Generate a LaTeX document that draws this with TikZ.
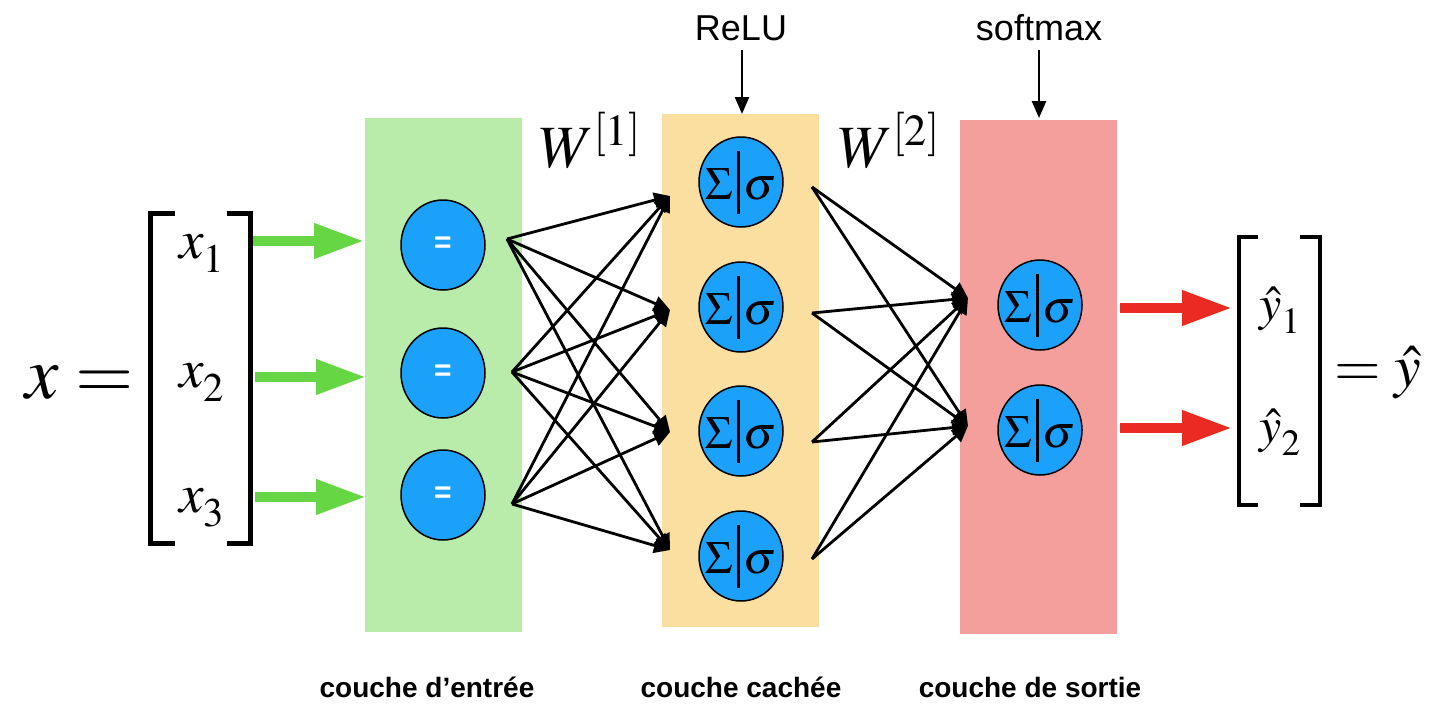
\documentclass[tikz,border=0pt]{standalone}
\usepackage{mathptmx}
\usepackage[no-math]{fontspec}
\setmainfont{Liberation Sans}
\usetikzlibrary{arrows.meta,shapes.geometric}
\definecolor{gbox}{HTML}{B9EBAA}
\definecolor{obox}{HTML}{FADFA0}
\definecolor{rbox}{HTML}{F59F9C}
\definecolor{neur}{HTML}{1BA1F9}
\definecolor{garr}{HTML}{66D645}
\definecolor{rarr}{HTML}{EA2A23}
\newcommand{\sigcell}{\fontsize{46}{46}\selectfont$\Sigma$\kern4pt\raisebox{-14.5pt}{\rule{3pt}{63pt}}\kern4pt$\sigma$}
\newcommand{\lowsub}[1]{_{\lower6pt\hbox{$\scriptstyle #1$}}}
\begin{document}
\begin{tikzpicture}[x=1pt,y=-1pt,
  layerbox/.style={draw=none,minimum width=157pt,inner sep=0},
  neuron/.style={ellipse,draw=black,line width=1.5pt,fill=neur,minimum width=84pt,minimum height=90pt,inner sep=0},
  eqsign/.style={text=white,font=\fontsize{30}{30}\selectfont\bfseries},
  cellsym/.style={inner sep=0},
  conn/.style={line width=2.8pt,-{Triangle[length=16pt,width=15pt]}},
  garrow/.style={draw=garr,line width=10pt,-{Triangle[length=50pt,width=33pt]}},
  rarrow/.style={draw=rarr,line width=10pt,-{Triangle[length=50pt,width=33pt]}},
  farrow/.style={line width=2.5pt,-{Triangle[length=17pt,width=14pt]}},
  bracket/.style={line width=5pt,miter limit=10},
  ybracket/.style={line width=4pt,miter limit=10},
  funlbl/.style={anchor=base,font=\fontsize{36}{40}\selectfont},
  layerlbl/.style={anchor=base,font=\fontsize{28}{30}\selectfont\bfseries},
  bigmath/.style={anchor=base,font=\fontsize{75}{80}\selectfont},
  vecmath/.style={anchor=base,font=\fontsize{55}{60}\selectfont},
  yvecmath/.style={anchor=base,font=\fontsize{50}{54}\selectfont},
  wmath/.style={anchor=base,font=\fontsize{60}{64}\selectfont}
]
\useasboundingbox (0,0) rectangle (1448,720);

% layer boxes
\node[layerbox,fill=gbox,minimum height=514pt] (inbox) at (443.5,375) {};
\node[layerbox,fill=obox,minimum height=513pt] (hidbox) at (740.5,370.5) {};
\node[layerbox,fill=rbox,minimum height=514pt] (outbox) at (1038.5,377) {};

% neurons
\node[neuron] (i1) at (443,245) {}; \node[eqsign] at (i1) {=};
\node[neuron] (i2) at (443,373) {}; \node[eqsign] at (i2) {=};
\node[neuron] (i3) at (443,495) {}; \node[eqsign] at (i3) {=};
\node[neuron] (h1) at (741,182) {}; \node[cellsym] at (h1) {\sigcell};
\node[neuron] (h2) at (741,307) {}; \node[cellsym] at (h2) {\sigcell};
\node[neuron] (h3) at (741,431) {}; \node[cellsym] at (h3) {\sigcell};
\node[neuron] (h4) at (741,556) {}; \node[cellsym] at (h4) {\sigcell};
\node[neuron] (o1) at (1040,305) {}; \node[cellsym] at (o1) {\sigcell};
\node[neuron] (o2) at (1040,430) {}; \node[cellsym] at (o2) {\sigcell};

% connector ends
\coordinate (i1o) at (507,239);
\coordinate (i2o) at (512,372);
\coordinate (i3o) at (512,504);
\coordinate (h1i) at (670,196);
\coordinate (h2i) at (670,310);
\coordinate (h3i) at (670,432);
\coordinate (h4i) at (670,550);
\coordinate (h1o) at (812,187);
\coordinate (h2o) at (812,313);
\coordinate (h3o) at (812,442);
\coordinate (h4o) at (812,559);
\coordinate (o1i) at (968,298);
\coordinate (o2i) at (968,426);

\foreach \a in {1,2,3}{\foreach \b in {1,2,3,4}{\draw[conn] (i\a o) -- (h\b i);}}
\foreach \a in {1,2,3,4}{\foreach \b in {1,2}{\draw[conn] (h\a o) -- (o\b i);}}

% input vector
\node[bigmath] (xeq) at (80,398) {$x=$};
\draw[bracket] (175,213) -- (150,213) -- (150,543) -- (175,543);
\draw[bracket] (227,213) -- (250,213) -- (250,543) -- (227,543);
\node[vecmath] (x1) at (202,258) {$x\lowsub{1}$};
\node[vecmath] (x2) at (202,387) {$x\lowsub{2}$};
\node[vecmath] (x3) at (202,512) {$x\lowsub{3}$};

\coordinate (g1s) at (253,241); \coordinate (g1e) at (364,241);
\coordinate (g2s) at (255,377); \coordinate (g2e) at (366,377);
\coordinate (g3s) at (255,497); \coordinate (g3e) at (366,497);
\draw[garrow] (g1s) -- (g1e);
\draw[garrow] (g2s) -- (g2e);
\draw[garrow] (g3s) -- (g3e);

% output vector
\coordinate (r1s) at (1120,308); \coordinate (r1e) at (1232,308);
\coordinate (r2s) at (1120,428); \coordinate (r2e) at (1232,428);
\draw[rarrow] (r1s) -- (r1e);
\draw[rarrow] (r2s) -- (r2e);
\draw[ybracket] (1258,237) -- (1239,237) -- (1239,505) -- (1258,505);
\draw[ybracket] (1300,237) -- (1320,237) -- (1320,505) -- (1300,505);
\node[yvecmath] (y1) at (1280,320) {$\hat{y}\lowsub{1}$};
\node[yvecmath] (y2) at (1280,442) {$\hat{y}\lowsub{2}$};
\node[anchor=base,font=\fontsize{60}{64}\selectfont] (yeq) at (1378,386) {$=\hat{y}$};

% weights
\node[wmath] (w1) at (590,167) {$W^{[1]}$};
\node[wmath] (w2) at (889,167) {$W^{[2]}$};

% activation labels
\node[funlbl] (relu) at (741,40) {ReLU};
\node[funlbl] (soft) at (1039,40) {softmax};
\coordinate (relus) at (742,50); \coordinate (relue) at (742,114);
\coordinate (softs) at (1039,50); \coordinate (softe) at (1039,118);
\draw[farrow] (relus) -- (relue);
\draw[farrow] (softs) -- (softe);

% layer labels
\node[layerlbl] (l1) at (427,697) {couche d’entrée};
\node[layerlbl] (l2) at (741,697) {couche cachée};
\node[layerlbl] (l3) at (1030,697) {couche de sortie};
\end{tikzpicture}
\end{document}
